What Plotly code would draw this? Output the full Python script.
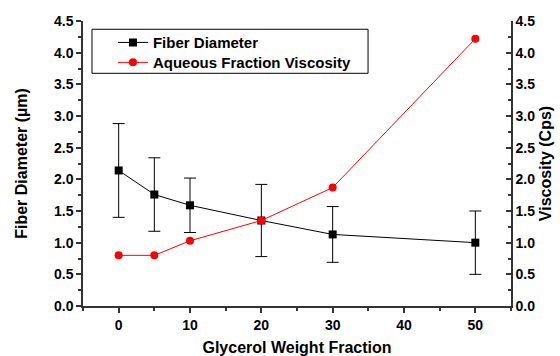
import plotly.graph_objects as go

glycerol = [0, 5, 10, 20, 30, 50]
fiber_diameter = [2.14, 1.76, 1.59, 1.35, 1.13, 1.00]
fiber_err = [0.74, 0.58, 0.43, 0.57, 0.44, 0.50]
viscosity = [0.80, 0.80, 1.03, 1.35, 1.87, 4.22]
y_ticks = [0, 0.5, 1.0, 1.5, 2.0, 2.5, 3.0, 3.5, 4.0, 4.5]
x_ticks = [0, 10, 20, 30, 40, 50]

FONT = "Arial, Liberation Sans, sans-serif"
AX = "#333333"

fig = go.Figure()
fig.add_trace(go.Scatter(
    x=glycerol, y=fiber_diameter, name="Fiber Diameter", mode="lines+markers",
    line=dict(color="black", width=1),
    marker=dict(symbol="square", size=8, color="black"),
    error_y=dict(type="data", array=fiber_err, visible=True, color="black", thickness=1, width=6),
    legend="legend",
))
fig.add_trace(go.Scatter(
    x=glycerol, y=viscosity, name="Aqueous Fraction Viscosity", mode="lines+markers",
    line=dict(color="#ff0000", width=1),
    marker=dict(symbol="circle", size=8, color="#ff0000"),
    yaxis="y2", legend="legend2",
))

tickfont = dict(family=FONT, size=14, color="black", weight="bold")
titlefont = dict(family=FONT, size=16, color="black", weight="bold")
legfont = dict(family=FONT, size=15, color="black", weight="bold")

fig.update_layout(
    width=560, height=356,
    margin=dict(l=83, r=49, t=21, b=50, autoexpand=False),
    paper_bgcolor="white", plot_bgcolor="white",
    showlegend=True,
    legend=dict(x=0.070, y=0.924, xanchor="left", yanchor="middle",
                borderwidth=0, bgcolor="rgba(0,0,0,0)", font=legfont),
    legend2=dict(x=0.070, y=0.854, xanchor="left", yanchor="middle",
                 borderwidth=0, bgcolor="rgba(0,0,0,0)", font=legfont),
    shapes=[dict(type="rect", xref="paper", yref="paper",
                 x0=0.021, x1=0.666, y0=0.8165, y1=0.971,
                 line=dict(color="black", width=1), fillcolor="rgba(0,0,0,0)")],
    xaxis=dict(
        range=[-5, 55], tickvals=x_ticks, showgrid=False, zeroline=False, automargin=False,
        showline=True, linecolor=AX, linewidth=1.5,
        ticks="outside", ticklen=5, tickcolor=AX, tickwidth=1.5,
        minor=dict(ticks="outside", ticklen=3, dtick=5, tick0=0, tickcolor=AX, tickwidth=1.5),
        tickfont=tickfont,
        title=dict(text="Glycerol Weight Fraction", font=titlefont, standoff=15),
    ),
    yaxis=dict(
        range=[0, 4.5], tickvals=y_ticks, tickformat=".1f", showgrid=False, zeroline=False,
        automargin=False,
        showline=True, linecolor=AX, linewidth=1.5,
        ticks="outside", ticklen=5, tickcolor=AX, tickwidth=1.5,
        minor=dict(ticks="outside", ticklen=3, dtick=0.25, tick0=0, tickcolor=AX, tickwidth=1.5),
        tickfont=tickfont,
        title=dict(text="Fiber Diameter (µm)", font=titlefont, standoff=22),
    ),
    yaxis2=dict(
        range=[0, 4.5], tickvals=y_ticks, tickformat=".1f", showgrid=False, zeroline=False,
        overlaying="y", side="right", automargin=False,
        showline=True, linecolor=AX, linewidth=1.5,
        ticks="inside", ticklen=5, tickcolor=AX, tickwidth=1.5,
        minor=dict(ticks="inside", ticklen=3, dtick=0.25, tick0=0, tickcolor=AX, tickwidth=1.5),
        tickfont=tickfont,
        title=dict(text="Viscosity (Cps)", font=titlefont, standoff=6),
    ),
)

fig.write_html("out.html", config={"displayModeBar": False},
               post_script="document.body.style.margin='0';")
